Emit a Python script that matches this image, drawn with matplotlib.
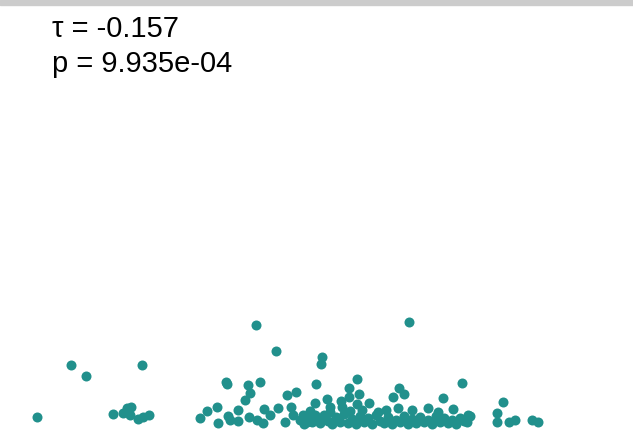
import matplotlib.pyplot as plt
from matplotlib.patches import Rectangle

# values
x_vals = [
    3.7, 7.1, 8.6, 14.2, 11.3, 12.3, 12.7, 13.1, 13.0, 13.8, 14.3, 14.9,
    25.6, 27.6, 22.6, 22.7, 24.8, 25.0, 26.0, 24.5, 28.7, 29.6, 31.6, 32.2, 32.1,
    20.0, 20.7, 21.7, 21.8, 22.8, 23.0, 23.8, 23.8, 24.9, 25.7, 26.4, 26.3,
    27.0, 27.8, 28.5, 29.1, 29.3, 30.3, 30.7, 31.5, 31.5,
    40.9, 46.2, 35.7, 34.9, 35.9, 34.9, 39.9, 40.4, 39.3, 44.3, 50.3,
    32.7, 34.1, 36.9, 35.7, 33.0, 34.2, 45.3, 49.7, 47.0, 42.8, 39.8, 41.2,
    53.2, 53.8, 51.5, 50.9, 49.7, 46.7,
    30.0, 30.4, 30.8, 31.2, 31.6, 32.0, 32.4, 32.8, 33.2, 33.6, 34.0, 34.4,
    34.8, 35.2, 35.6, 36.0, 36.4, 36.8, 37.2, 37.6, 38.0, 38.4, 38.8, 39.2,
    39.6, 40.0, 40.4, 40.8, 41.2, 41.6, 42.0, 42.4, 42.8, 43.2, 43.6, 44.0,
    44.4, 44.8, 45.2, 45.6, 46.0, 46.4,
    33.0, 35.0, 36.2, 37.8, 43.8, 46.8, 38.6, 31.0,
]
y_vals = [
    1.3, 6.5, 5.4, 6.5, 1.6, 1.7, 2.2, 2.3, 1.5, 1.1, 1.3, 1.5,
    10.5, 7.9, 4.8, 4.6, 4.5, 3.7, 4.8, 3.0, 3.5, 3.8, 4.6, 7.3, 6.6,
    1.2, 1.9, 2.3, 0.7, 1.4, 1.0, 2.0, 0.9, 1.3, 1.0, 2.1, 0.7,
    1.5, 2.2, 0.8, 2.3, 1.5, 1.5, 0.8, 2.7, 1.5,
    10.8, 4.7, 5.1, 4.2, 3.6, 3.3, 4.2, 3.6, 3.3, 3.2, 2.8,
    3.1, 2.9, 2.7, 2.6, 2.3, 2.3, 2.1, 1.7, 1.4, 2.2, 2.2, 2.0,
    1.0, 0.8, 1.0, 0.8, 0.8, 0.8,
    1.0, 0.6, 1.4, 0.8, 1.2, 0.7, 1.5, 0.9, 0.6, 1.3, 0.8, 1.6,
    0.7, 1.1, 0.6, 1.4, 0.8, 1.2, 0.6, 1.5, 0.9, 0.7, 1.3, 0.6,
    1.0, 0.8, 1.4, 0.6, 1.1, 0.7, 1.3, 0.8, 1.0, 0.6, 1.4, 0.8,
    1.2, 0.7, 1.0, 0.6, 1.2, 0.9,
    1.8, 1.9, 2.0, 1.8, 1.8, 1.5, 2.0, 1.9,
]
tau = -0.157
p_value = 9.935e-04

plt.rcParams['font.family'] = ['Liberation Sans', 'DejaVu Sans']

fig = plt.figure(figsize=(6.33, 4.41), dpi=100)
ax = fig.add_axes([0, 0, 1, 1])
ax.scatter(x_vals, y_vals, s=52, color='#21908C', linewidths=0)
ax.set_xlim(0, 63.3)
ax.set_ylim(-1.1, 43.0)
ax.axis('off')

# grey strip along the top edge
fig.patches.append(Rectangle((0, 1 - 5 / 441), 1, 5 / 441, transform=fig.transFigure,
                             color='#cccccc', zorder=0))

fig.text(52 / 633, 1 - 37 / 441, f'τ = {tau:.3f}', fontsize=21, va='baseline')
fig.text(52 / 633, 1 - 72 / 441, f'p = {p_value:.3e}', fontsize=21, va='baseline')

fig.savefig('out.png', dpi=100)
